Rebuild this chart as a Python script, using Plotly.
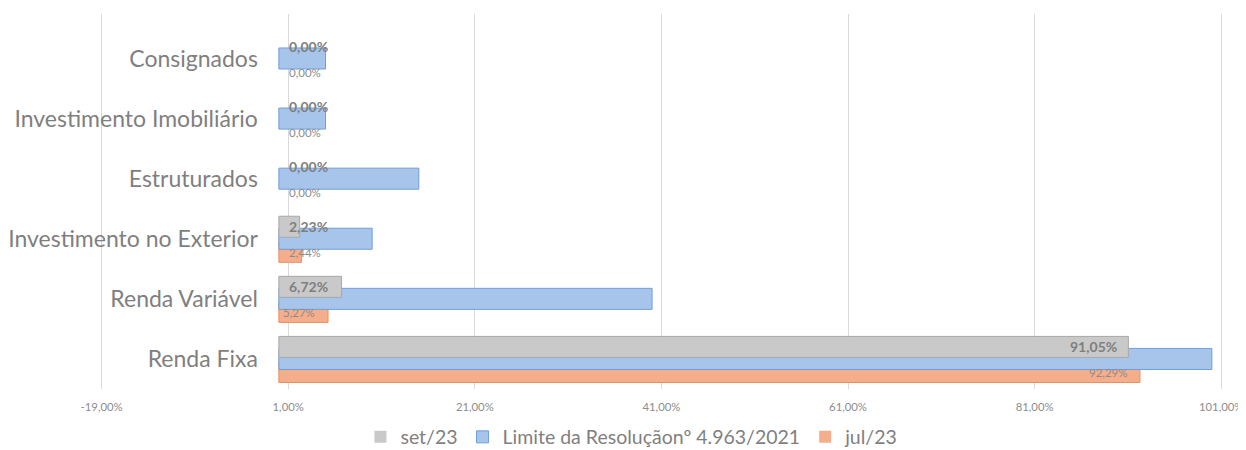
import plotly.graph_objects as go

categories = ["Consignados", "Investimento Imobiliário", "Estruturados",
              "Investimento no Exterior", "Renda Variável", "Renda Fixa"]
set23 = [0.00, 0.00, 0.00, 2.23, 6.72, 91.05]
limite = [5, 5, 15, 10, 40, 100]
jul23 = [0.00, 0.00, 0.00, 2.44, 5.27, 92.29]
tick_vals = [-19, 1, 21, 41, 61, 81, 101]
tick_text = ["-19,00%", "1,00%", "21,00%", "41,00%", "61,00%", "81,00%", "101,00%"]

FONT = "Lato"
GREY_TXT = "#7f7f7f"
X_RANGE = [-19.6, 101.3]


def fmt(v):
    return f"{v:.2f}".replace(".", ",") + "%"


def edge(values, w=1):
    return [0 if v == 0 else w for v in values]


fig = go.Figure()

# draw order: orange (back), blue, grey (front)
fig.add_trace(go.Bar(
    name="jul/23", y=categories, x=jul23, orientation="h",
    offset=0.042, width=0.35, legendrank=3,
    marker=dict(color="#f5ae8b", line=dict(color="#ee8d5e", width=edge(jul23))),
))
fig.add_trace(go.Bar(
    name="Limite da Resoluçãonº 4.963/2021", y=categories, x=limite, orientation="h",
    offset=-0.175, width=0.35, legendrank=2,
    marker=dict(color="#a7c4ea", line=dict(color="#6f9fd8", width=edge(limite))),
))
fig.add_trace(go.Bar(
    name="set/23", y=categories, x=set23, orientation="h",
    offset=-0.375, width=0.35, legendrank=1,
    marker=dict(color="#c9c9c9", line=dict(color="#a8a8a8", width=edge(set23))),
))

annotations = []
for cat, v in zip(categories, set23):
    big = v > 50
    annotations.append(dict(
        x=v if big else 0, y=cat, xref="x", yref="y", text=f"<b>{fmt(v)}</b>",
        showarrow=False, xanchor="right" if big else "left",
        xshift=-9 if big else 8, yshift=12,
        font=dict(family=FONT, size=14, color=GREY_TXT),
    ))
for cat, v in zip(categories, jul23):
    big = v > 50
    annotations.append(dict(
        x=v if big else 0, y=cat, xref="x", yref="y", text=fmt(v),
        showarrow=False, xanchor="right" if big else "left",
        xshift=-10 if big else (2 if v > 4 else 8), yshift=-14,
        font=dict(family=FONT, size=11.5, color="#8c8c8c"),
    ))

# the page body adds an 8 px offset; the figure is sized to fit the 1246x450 window
fig.update_layout(
    width=1238, height=442,
    margin=dict(l=88, r=22, t=6, b=61, autoexpand=False),
    paper_bgcolor="white", plot_bgcolor="white",
    barmode="overlay",
    font=dict(family=FONT, color=GREY_TXT),
    showlegend=True,
    legend=dict(orientation="h", xref="container", yref="container",
                x=0.504, xanchor="center", y=0.029, yanchor="middle",
                font=dict(family=FONT, size=19.5, color=GREY_TXT),
                traceorder="normal"),
    annotations=annotations,
    xaxis=dict(range=X_RANGE, tickvals=tick_vals, ticktext=tick_text,
               showgrid=True, gridcolor="#d9d9d9", gridwidth=1,
               zeroline=False, showline=False, automargin=False,
               tickfont=dict(family=FONT, size=11.3, color="#8c8c8c"),
               ticks="", ticklabelstandoff=10),
    yaxis=dict(type="category", categoryorder="array", categoryarray=categories,
               range=[5.5, -0.74], anchor="free",
               position=(0 - X_RANGE[0]) / (X_RANGE[1] - X_RANGE[0]),
               showgrid=False, zeroline=False, showline=False, ticks="",
               automargin=False,
               tickfont=dict(family=FONT, size=23, color=GREY_TXT),
               ticklabelstandoff=21),
)

fig.write_html("out.html")
